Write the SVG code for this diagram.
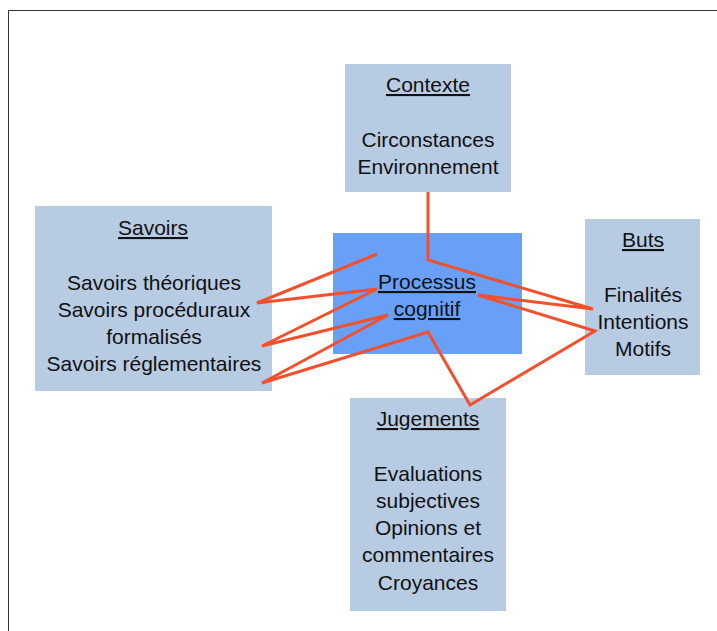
<svg xmlns="http://www.w3.org/2000/svg" width="717" height="631" viewBox="0 0 717 631">
<style>
.box{fill:#b7cbe3}
.core{fill:#68a0f8}
text{font-family:"Liberation Sans",Arial,sans-serif;font-size:21px;fill:#111;text-anchor:middle}
.t{text-decoration:underline}
.ln{fill:none;stroke:#f2502c;stroke-width:3;stroke-linejoin:miter}
</style>
<rect x="0" y="0" width="717" height="631" fill="#fff"/>
<path d="M8.5,640 V10.5 H720" fill="none" stroke="#333" stroke-width="1"/>
<g id="contexte">
<rect class="box" x="345" y="64" width="166" height="128"/>
<text class="t" x="428" y="92">Contexte</text>
<text x="428" y="147">Circonstances</text>
<text x="428" y="174">Environnement</text>
</g>
<g id="savoirs">
<rect class="box" x="35" y="206" width="237" height="185"/>
<text class="t" x="153" y="235">Savoirs</text>
<text x="154" y="290">Savoirs théoriques</text>
<text x="154" y="317">Savoirs procéduraux</text>
<text x="154" y="344">formalisés</text>
<text x="154" y="371">Savoirs réglementaires</text>
</g>
<g id="processus">
<rect class="core" x="333" y="233" width="189" height="121"/>
<text class="t" x="427" y="289">Processus</text>
<text class="t" x="427" y="316">cognitif</text>
</g>
<g id="buts">
<rect class="box" x="585" y="219" width="115" height="156"/>
<text class="t" x="643" y="247">Buts</text>
<text x="643" y="302">Finalités</text>
<text x="643" y="329">Intentions</text>
<text x="643" y="356">Motifs</text>
</g>
<g id="jugements">
<rect class="box" x="350" y="398" width="156" height="213"/>
<text class="t" x="428" y="426">Jugements</text>
<text x="428" y="481">Evaluations</text>
<text x="428" y="508">subjectives</text>
<text x="428" y="535">Opinions et</text>
<text x="428" y="562">commentaires</text>
<text x="428" y="590">Croyances</text>
</g>
<g id="connectors">
<polyline class="ln" points="377,254 257,303 377,289 262,346 388,315 262,383 428,332 470,405 595,331 478,295 593,309 428,260 428,192"/>
</g>
</svg>
